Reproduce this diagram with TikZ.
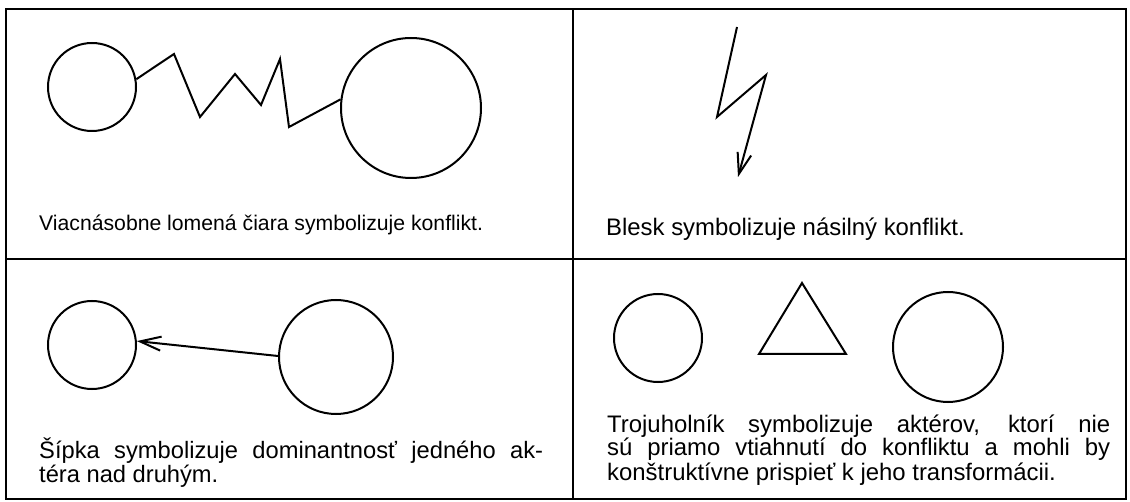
\documentclass[tikz,border=0pt]{standalone}
\usepackage{fontspec}
\setmainfont{Liberation Sans}
\usetikzlibrary{arrows.meta}
\begin{document}
\begin{tikzpicture}[x=1pt,y=-1pt,
  frame/.style={line width=2.5pt},
  actor/.style={circle,draw,line width=2pt,inner sep=0pt},
  stroke/.style={line width=2pt,line join=miter},
  barb/.style={stroke,-{Straight Barb[length=21pt,width=14pt]}},
  capone/.style={anchor=base west,inner sep=0pt,font=\fontsize{21.2}{24}\selectfont},
  captwo/.style={anchor=base west,inner sep=0pt,font=\fontsize{23.9}{24}\selectfont},
  capthree/.style={anchor=base west,inner sep=0pt,font=\fontsize{23.7}{24}\selectfont},
  capfour/.style={anchor=base west,inner sep=0pt,font=\fontsize{23.9}{24}\selectfont}]
\useasboundingbox (0,0) rectangle (1130,502);
% frame
\draw[frame] (6,9) rectangle (1126,499);
\coordinate (vt) at (573,9);
\coordinate (vb) at (573,499);
\coordinate (hl) at (6,259);
\coordinate (hr) at (1126,259);
\draw[frame] (vt) -- (vb);
\draw[frame] (hl) -- (hr);
% panel 1
\node[actor,minimum size=88pt] (c1) at (92,87) {};
\node[actor,minimum size=140pt] (c2) at (411,108) {};
\coordinate (z1) at (174,54);
\coordinate (z2) at (200,117);
\coordinate (z3) at (235,74);
\coordinate (z4) at (261,105);
\coordinate (z5) at (280,59);
\coordinate (z6) at (289,127);
\draw[stroke] (c1.10) -- (z1) -- (z2) -- (z3) -- (z4) -- (z5) -- (z6) -- (c2.173);
\node[capone] (t1) at (39,231) {Viacnásobne lomená čiara symbolizuje konflikt.};
% panel 2
\coordinate (l1) at (737,27);
\coordinate (l2) at (717,117);
\coordinate (l3) at (766,75);
\coordinate (l4) at (738,177);
\draw[barb] (l1) -- (l2) -- (l3) -- (l4);
\node[captwo] (t2) at (606,236) {Blesk symbolizuje násilný konflikt.};
% panel 3
\node[actor,minimum size=88pt] (c3) at (92,345) {};
\node[actor,minimum size=114pt] (c4) at (336,357) {};
\draw[barb] (c4.179) -- (c3.5);
\node[capthree] (t3a) at (39,458) {\makebox[504pt][s]{Šípka symbolizuje dominantnosť jedného ak-}};
\node[capthree] (t3b) at (39,482) {téra nad druhým.};
% panel 4
\node[actor,minimum size=88pt] (c5) at (658,338) {};
\coordinate (tr1) at (802,283);
\coordinate (tr2) at (846,354);
\coordinate (tr3) at (759,354);
\draw[stroke] (tr1) -- (tr2) -- (tr3) -- cycle;
\node[actor,minimum size=110pt] (c6) at (948,347) {};
\node[capfour] (t4a) at (607,432) {\makebox[503pt][s]{Trojuholník symbolizuje aktérov, ktorí nie}};
\node[capfour] (t4b) at (607,456) {\makebox[503pt][s]{sú priamo vtiahnutí do konfliktu a mohli by}};
\node[capfour] (t4c) at (607,480) {konštruktívne prispieť k jeho transformácii.};
\end{tikzpicture}
\end{document}
